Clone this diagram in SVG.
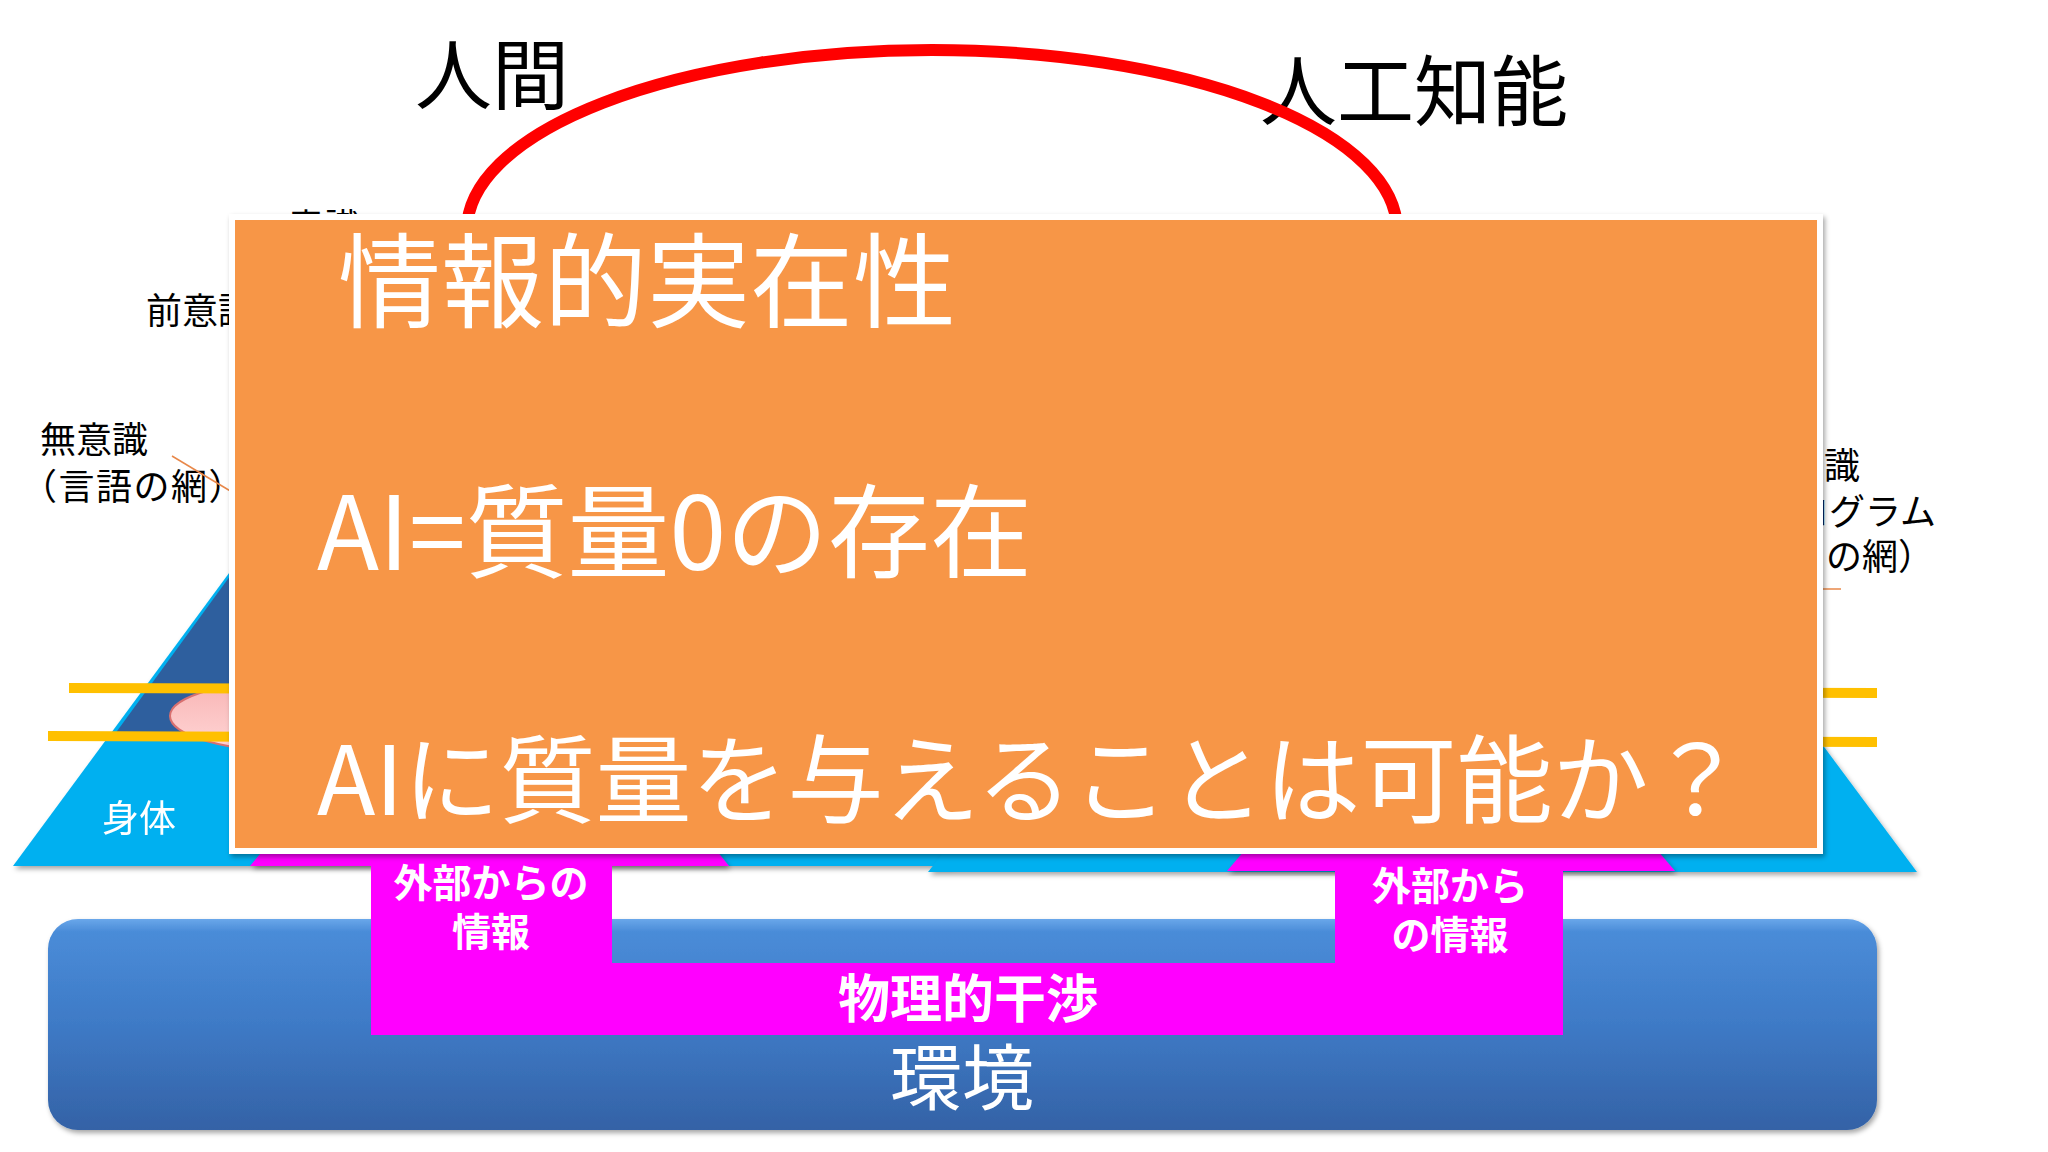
<svg xmlns="http://www.w3.org/2000/svg" width="2048" height="1152" viewBox="0 0 2048 1152">
<defs>
<style>
text{font-family:"Noto Sans CJK JP","Noto Sans",sans-serif;}
.lbl{fill:#000;font-size:36px;}
.big{fill:#000;font-size:77px;}
.wt{fill:#fff;}
.mag{fill:#FF00FF;}
.lb{fill:#00B0F0;}
.yl{stroke:#FFC000;stroke-width:10;fill:none;}
.ptr{stroke:#E8884A;stroke-width:1.5;fill:none;}
</style>
<linearGradient id="envg" x1="0" y1="0" x2="0" y2="1">
<stop offset="0" stop-color="#6AA7EA"/>
<stop offset="0.06" stop-color="#4A8CD8"/>
<stop offset="0.5" stop-color="#3E7AC6"/>
<stop offset="1" stop-color="#3462A6"/>
</linearGradient>
<linearGradient id="pinkg" x1="0" y1="0" x2="0" y2="1">
<stop offset="0" stop-color="#F8B4B4"/>
<stop offset="1" stop-color="#FFD6D6"/>
</linearGradient>
<filter id="sh" x="-5%" y="-5%" width="110%" height="115%">
<feDropShadow dx="2" dy="3" stdDeviation="2.5" flood-color="#000" flood-opacity="0.35"/>
</filter>
</defs>
<rect width="2048" height="1152" fill="#fff"/>

<g id="environment" filter="url(#sh)">
<rect x="48" y="919" width="1829" height="211" rx="30" ry="30" fill="url(#envg)"/>
<text x="962" y="1104" class="wt" font-size="72" text-anchor="middle">環境</text>
</g>

<g id="pyramid-human" filter="url(#sh)">
<polygon class="lb" points="13,866 952,866 482,230"/>
<polygon fill="#2F5E9E" points="112,738 852,738 482,230"/>
<text x="139" y="832" class="wt" font-size="37" text-anchor="middle">身体</text>
</g>

<g id="pyramid-ai" filter="url(#sh)">
<polygon class="lb" points="928,872 1917,872 1440,230"/>
</g>

<g id="info-trapezoids" filter="url(#sh)">
<polygon class="mag" points="250,866 729,866 700,830 280,830"/>
<polygon class="mag" points="1227,871 1675,871 1640,830 1262,830"/>
</g>

<g id="physical-interference">
<polygon class="mag" points="371,866 612,866 612,963 1335,963 1335,871 1563,871 1563,1035 371,1035"/>
<text x="968" y="1018" class="wt" font-size="52" font-weight="bold" text-anchor="middle">物理的干渉</text>
</g>

<g id="info-left">
<text x="491" y="897" class="wt" font-size="39" font-weight="bold" text-anchor="middle">外部からの</text>
<text x="491" y="946" class="wt" font-size="39" font-weight="bold" text-anchor="middle">情報</text>
</g>

<g id="info-right">
<text x="1450" y="900" class="wt" font-size="39" font-weight="bold" text-anchor="middle">外部から</text>
<text x="1450" y="949" class="wt" font-size="39" font-weight="bold" text-anchor="middle">の情報</text>
</g>

<g id="pink-core">
<ellipse cx="300" cy="716" rx="130" ry="36" fill="url(#pinkg)" stroke="#D87070" stroke-width="2"/>
</g>

<g id="levels">
<line class="yl" x1="69" y1="688" x2="1877" y2="693"/>
<line class="yl" x1="48" y1="736" x2="1877" y2="742"/>
</g>

<g id="labels-left">
<text x="288" y="240" class="lbl">意識</text>
<text x="146" y="324" class="lbl">前意識</text>
<text x="40" y="453" class="lbl" font-size="38.5">無意識</text>
<text x="21" y="500" class="lbl" font-size="38.5" letter-spacing="1.5">（言語の網）</text>
</g>

<g id="labels-right">
<text x="1860" y="479" class="lbl" text-anchor="end">無意識</text>
<text x="1936" y="525" class="lbl" text-anchor="end">（プログラム</text>
<text x="1934" y="570" class="lbl" text-anchor="end">の網）</text>
</g>

<g id="title-human">
<text x="415" y="104" class="big">人間</text>
</g>
<g id="title-ai">
<text x="1260" y="120" class="big">人工知能</text>
</g>

<g id="connectors">
<ellipse cx="932" cy="230" rx="465" ry="180" fill="none" stroke="#FF0000" stroke-width="12"/>
<line class="ptr" x1="172" y1="456" x2="232" y2="492"/>
<line class="ptr" x1="1822" y1="589" x2="1841" y2="589"/>
</g>

<g id="overlay-box">
<rect x="232" y="217" width="1588" height="634" fill="#F79646" stroke="#fff" stroke-width="6" filter="url(#sh)"/>
<text x="338" y="320" class="wt" font-size="103">情報的実在性</text>
<text x="317" y="570" class="wt" font-size="102">AI=質量0の存在</text>
<text x="317" y="815" class="wt" font-size="96">AIに質量を与えることは可能か？</text>
</g>
</svg>
